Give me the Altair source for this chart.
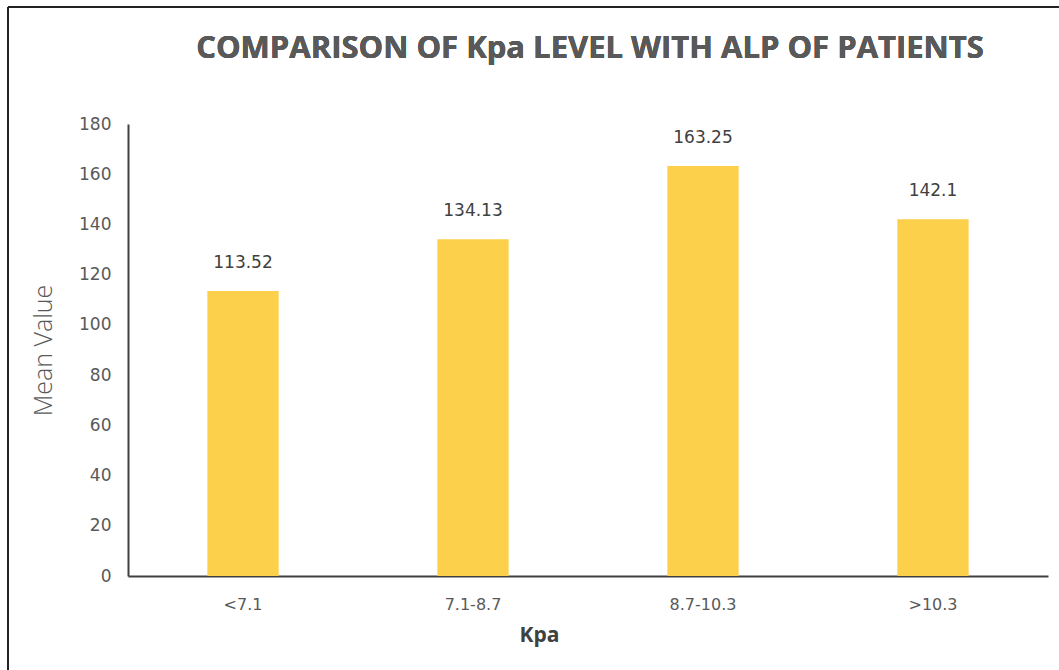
import altair as alt
import pandas as pd

categories = ["<7.1", "7.1-8.7", "8.7-10.3", ">10.3"]
values = [113.52, 134.13, 163.25, 142.1]
labels = ["113.52", "134.13", "163.25", "142.1"]

df = pd.DataFrame({"Kpa": categories, "Mean": values, "Label": labels})

W, H = 920, 452
PL, PT, PR, PB = 128, 124, 11, 94

x = alt.X("Kpa:N", sort=categories,
          scale=alt.Scale(paddingInner=0.69, paddingOuter=0.345),
          axis=alt.Axis(title="Kpa", labelAngle=0, labelFontSize=16, labelColor="#595959",
                        labelFont="DejaVu Sans", labelPadding=20, ticks=False,
                        domainColor="#404040", domainWidth=2,
                        titleFont="Open Sans", titleFontSize=21, titleFontWeight="bold",
                        titleColor="#404040", titlePadding=12, titleX=411, titleAlign="center"))
y = alt.Y("Mean:Q", scale=alt.Scale(domain=[0, 180]),
          axis=alt.Axis(title="Mean Value", values=list(range(0, 181, 20)), grid=False, ticks=False,
                        labelFontSize=17, labelColor="#595959", labelFont="DejaVu Sans",
                        labelPadding=17, domainColor="#404040", domainWidth=2,
                        titleFont="Open Sans", titleFontSize=25, titleFontWeight=300,
                        titleColor="#595959", titlePadding=22))

bars = alt.Chart(df).mark_bar(color="#FCD04B").encode(x=x, y=y)
text = alt.Chart(df).mark_text(dy=-28, fontSize=17, font="DejaVu Sans", color="#404040").encode(
    x=alt.X("Kpa:N", sort=categories), y="Mean:Q", text="Label:N")

top_border = alt.Chart(df).mark_rule(color="#222222", strokeWidth=2).encode(
    x=alt.value(-PL + 8), x2=alt.value(W + PR), y=alt.value(-PT + 7))
left_border = alt.Chart(df).mark_rule(color="#222222", strokeWidth=2).encode(
    x=alt.value(-PL + 8), y=alt.value(-PT + 7), y2=alt.value(H + PB))

title = alt.Chart(df).mark_text(font="Open Sans", fontSize=31, fontWeight="bold", color="#595959").encode(
    x=alt.value(462), y=alt.value(-75), text=alt.value("COMPARISON OF Kpa LEVEL WITH ALP OF PATIENTS"))

chart = alt.layer(bars, text, top_border, left_border, title).properties(
    width=W, height=H,
    autosize=alt.AutoSizeParams(type="none"),
    padding={"left": PL, "top": PT, "right": PR, "bottom": PB},
    background="white",
).configure_view(stroke=None)

chart.save("out.html", embed_options={"renderer": "svg", "actions": False})
